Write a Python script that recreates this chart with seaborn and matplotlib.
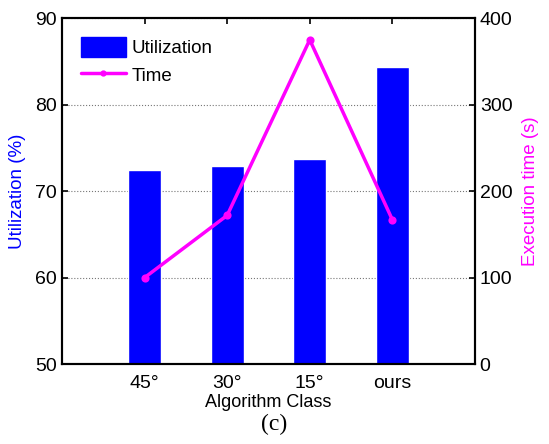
import matplotlib
matplotlib.use("Agg")
import matplotlib.pyplot as plt
import seaborn as sns
import pandas as pd
from matplotlib.lines import Line2D
from matplotlib.patches import Patch

categories = ["45°", "30°", "15°", "ours"]
utilization = [72.4, 72.9, 73.7, 84.4]
exec_time = [100, 172, 375, 167]

df = pd.DataFrame({"cls": categories, "util": utilization, "time": exec_time})

sns.set_style("white")
plt.rcParams["font.family"] = ["Liberation Sans", "DejaVu Sans"]
plt.rcParams["text.color"] = "black"
plt.rcParams["xtick.color"] = "black"
plt.rcParams["ytick.color"] = "black"
plt.rcParams["axes.labelcolor"] = "black"

fig = plt.figure(figsize=(5.49, 4.44), dpi=100)
ax = fig.add_axes([0.113, 0.18, 0.752, 0.779])

sns.barplot(data=df, x="cls", y="util", order=categories, color="#0000ff",
            saturation=1, width=0.4, ax=ax)
ax.set_xlim(-1, 4)
ax.set_ylim(50, 90)
ax.set_yticks([50, 60, 70, 80, 90])
ax.yaxis.grid(True, linestyle=":", color="#777777", linewidth=0.8)
ax.set_axisbelow(True)
ax.set_xlabel("Algorithm Class", fontsize=13, labelpad=1)
ax.set_ylabel("Utilization (%)", color="#0000ff", fontsize=13.5, labelpad=7)
ax.tick_params(axis="both", direction="in", labelsize=14, top=True, bottom=False,
               length=4, width=1.2)
ax.tick_params(axis="x", pad=8)

ax2 = ax.twinx()
sns.pointplot(data=df, x="cls", y="time", order=categories, color="#ff00ff",
              markers="o", markersize=4, linewidth=2.5, ax=ax2)
ax2.set_xlim(-1, 4)
ax2.set_ylim(0, 400)
ax2.set_yticks([0, 100, 200, 300, 400])
ax2.set_ylabel("Execution time (s)", color="#ff00ff", fontsize=13.5, labelpad=7)
ax2.tick_params(axis="y", direction="in", labelsize=14, length=4, width=1.2)
ax2.grid(False)

for a in (ax, ax2):
    for s in a.spines.values():
        s.set_visible(True)
        s.set_color("black")
        s.set_linewidth(1.5)

handles = [Patch(facecolor="#0000ff", edgecolor="#0000ff"),
           Line2D([], [], color="#ff00ff", marker="o", markersize=3.5, linewidth=2.5)]
ax2.legend(handles, ["Utilization", "Time"], loc="upper left", frameon=False,
           fontsize=13.5, handlelength=2.4, handleheight=1.3, labelspacing=0.4,
           handletextpad=0.3, bbox_to_anchor=(0.0, 1.0), borderaxespad=0.6)

fig.text(0.5, 0.045, "(c)", ha="center", va="center", fontsize=17,
         family=["Liberation Serif", "DejaVu Serif"])

fig.savefig("out.png", dpi=100)
